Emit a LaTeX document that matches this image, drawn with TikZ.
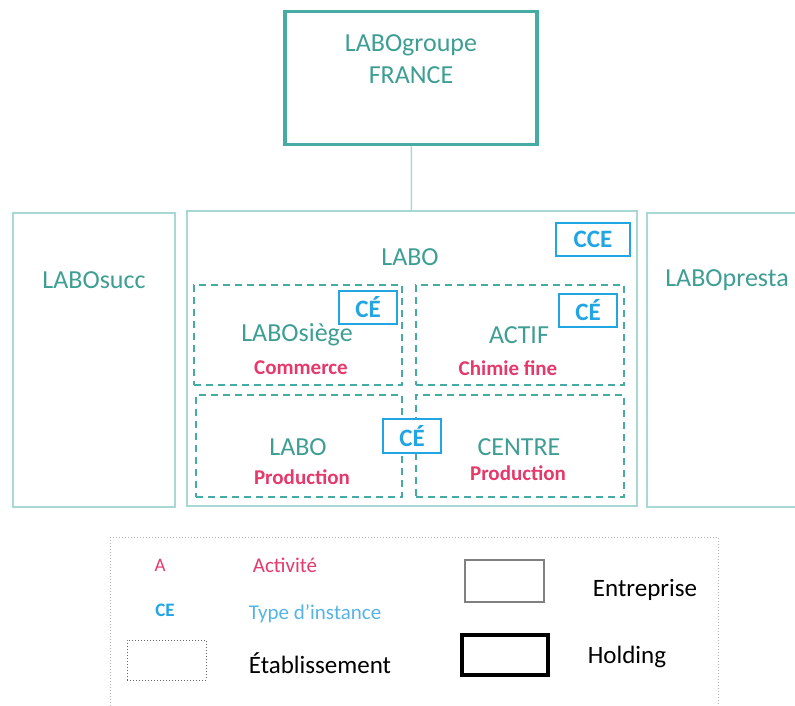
\documentclass[tikz,border=0pt]{standalone}
\usepackage{fontspec}
\setmainfont{Carlito}
\usepackage{tikz}
\definecolor{sarcelle}{HTML}{3E9E93}
\definecolor{sarcellefort}{HTML}{46ABA3}
\definecolor{sarcelleclair}{HTML}{A8D8D3}
\definecolor{rose}{HTML}{E5386B}
\definecolor{bleuinst}{HTML}{22A5E3}
\definecolor{bleuclair}{HTML}{56B3E6}
\tikzstyle{holding}=[draw=sarcellefort,line width=3.5pt,inner sep=0pt]
\tikzstyle{entreprise}=[draw=sarcelleclair,line width=1.5pt,inner sep=0pt]
\tikzstyle{etab}=[draw=sarcellefort,line width=1.5pt,dash pattern=on 7pt off 5pt,inner sep=0pt]
\tikzstyle{instance}=[draw=bleuinst,fill=white,line width=2pt,inner sep=0pt,text=bleuinst,font=\fontsize{25}{30}\selectfont\bfseries]
\tikzstyle{nom}=[text=sarcelle,font=\fontsize{26}{32}\selectfont,align=center]
\tikzstyle{activite}=[text=rose,font=\fontsize{21}{25}\selectfont\bfseries]
\tikzstyle{legende}=[font=\fontsize{25}{30}\selectfont]
\tikzstyle{lien}=[draw=sarcelleclair,line width=1.5pt]

\begin{document}
\begin{tikzpicture}[x=1pt,y=-1pt]
          \clip (0,0) rectangle (795,705);
          \node[holding,minimum width=252pt,minimum height=133pt] (groupe) at (411,78) {};
          \node[nom] (groupetxt) at (411,59) {LABOgroupe\\FRANCE};
          \node[entreprise,minimum width=162pt,minimum height=294pt] (succ) at (94,360) {};
          \node[nom] (succtxt) at (94,280) {LABOsucc};
          \node[entreprise,minimum width=450pt,minimum height=295pt] (labo) at (412,358.5) {};
          \node[nom] (labotxt) at (410,257) {LABO};
          \node[entreprise,minimum width=162pt,minimum height=294pt] (presta) at (728,360) {};
          \node[nom] (prestatxt) at (727,280) {LABOpresta};
          \draw[lien] (groupe) -- (labo);
          \node[instance,minimum width=74pt,minimum height=33pt] (cce) at (593,239.5) {CCE};
          \node[etab,minimum width=208pt,minimum height=100pt] (siege) at (298,335) {};
          \node[etab,minimum width=208pt,minimum height=100pt] (actif) at (520,335) {};
          \node[etab,minimum width=206pt,minimum height=102pt] (labop) at (299,446) {};
          \node[etab,minimum width=208pt,minimum height=102pt] (centre) at (520,446) {};
          \node[instance,minimum width=58pt,minimum height=33pt] (ce1) at (368,307.5) {CÉ};
          \node[instance,minimum width=58pt,minimum height=33pt] (ce2) at (588,310.5) {CÉ};
          \node[instance,minimum width=58pt,minimum height=34pt] (ce3) at (412,436) {CÉ};
          \node[nom] (siegetxt) at (297,335) {LABOsiège};
          \node[activite] (siegeact) at (301,368) {Commerce};
          \node[nom] (actiftxt) at (519,335) {ACTIF};
          \node[activite] (actifact) at (508,368) {Chimie fine};
          \node[nom] (laboptxt) at (298,447) {LABO};
          \node[activite] (labopact) at (302,477) {Production};
          \node[nom] (centretxt) at (519,447) {CENTRE};
          \node[activite] (centreact) at (518,473) {Production};
          % legende
          \draw[gray!60,line width=1pt,dotted] (110,537) rectangle (718,720);
          \node[text=rose,font=\fontsize{19}{23}\selectfont] (legA) at (160,565) {A};
          \node[text=rose,font=\fontsize{21}{25}\selectfont] (legact) at (285,565) {Activité};
          \node[text=bleuinst,font=\fontsize{19}{23}\selectfont\bfseries] (legCE) at (165,610) {CE};
          \node[text=bleuclair,font=\fontsize{21}{25}\selectfont] (legtype) at (315,614) {Type d’instance};
          \node[draw=gray!80!black,line width=1pt,dotted,minimum width=79pt,minimum height=40pt] (legetab) at (166.5,660) {};
          \node[legende] (legetabtxt) at (320,663) {Établissement};
          \node[draw=gray,line width=1.5pt,minimum width=79pt,minimum height=42pt] (legent) at (504.5,581) {};
          \node[legende] (legenttxt) at (645,590) {Entreprise};
          \node[draw=black,line width=3.5pt,minimum width=86pt,minimum height=40pt] (leghold) at (505,655) {};
          \node[legende] (legholdtxt) at (627,657) {Holding};
        \end{tikzpicture}
\end{document}
